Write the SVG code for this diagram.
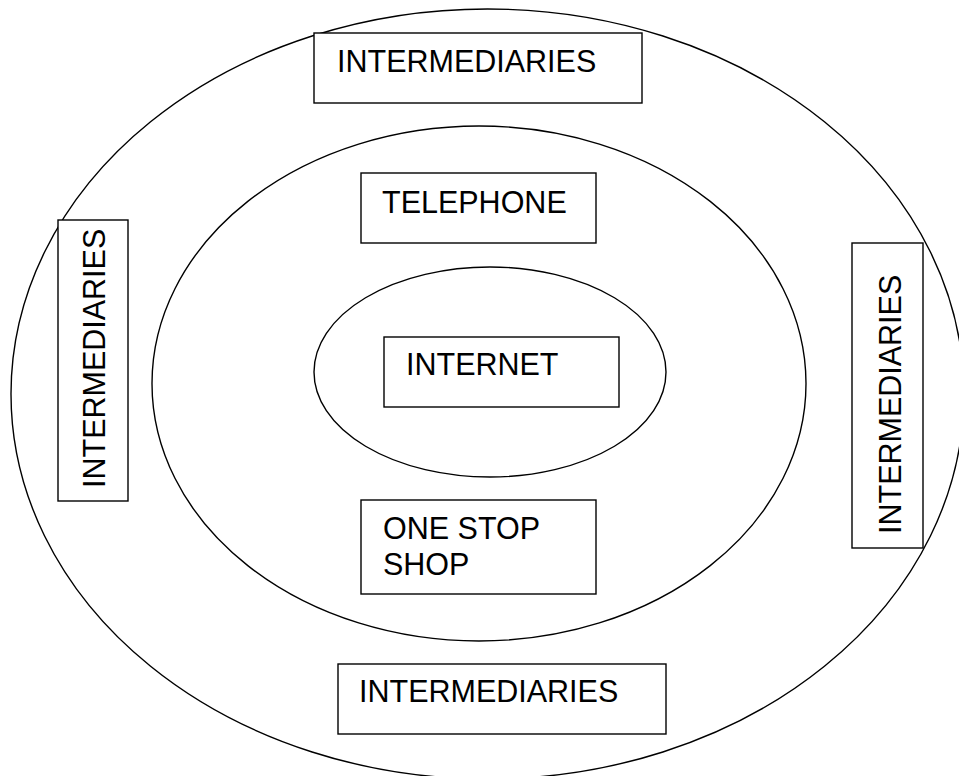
<svg xmlns="http://www.w3.org/2000/svg" width="959" height="776" viewBox="0 0 959 776">
<style>
.ring{fill:none;stroke:#000;stroke-width:1.4}
.box{fill:#fff;stroke:#000;stroke-width:1.4}
.t{font-family:"Liberation Sans",Arial,sans-serif;font-size:30.5px;fill:#000}
</style>
<rect width="959" height="776" fill="#fff"/>
<g id="rings">
<ellipse id="outer" class="ring" cx="487.5" cy="394" rx="476.5" ry="385"/>
<ellipse id="middle" class="ring" cx="479" cy="383.5" rx="327" ry="257.5"/>
<ellipse id="inner" class="ring" cx="490" cy="372" rx="176" ry="105"/>
</g>
<g id="connectors"></g>
<g id="top-intermediaries">
<rect class="box" x="314" y="33" width="328" height="70"/>
<text class="t" x="337" y="72">INTERMEDIARIES</text>
</g>
<g id="telephone">
<rect class="box" x="361" y="173" width="235" height="70"/>
<text class="t" x="382" y="213">TELEPHONE</text>
</g>
<g id="left-intermediaries">
<rect class="box" x="58" y="220" width="70" height="281"/>
<text class="t" transform="translate(105,488) rotate(-90)">INTERMEDIARIES</text>
</g>
<g id="right-intermediaries">
<rect class="box" x="852" y="243" width="71" height="305"/>
<text class="t" transform="translate(901,534) rotate(-90)">INTERMEDIARIES</text>
</g>
<g id="internet">
<rect class="box" x="384" y="337" width="235" height="70"/>
<text class="t" x="406" y="375">INTERNET</text>
</g>
<g id="one-stop-shop">
<rect class="box" x="361" y="500" width="235" height="94"/>
<text class="t" x="383" y="539">ONE STOP</text>
<text class="t" x="383" y="575">SHOP</text>
</g>
<g id="bottom-intermediaries">
<rect class="box" x="338" y="664" width="328" height="70"/>
<text class="t" x="359" y="702">INTERMEDIARIES</text>
</g>
</svg>
